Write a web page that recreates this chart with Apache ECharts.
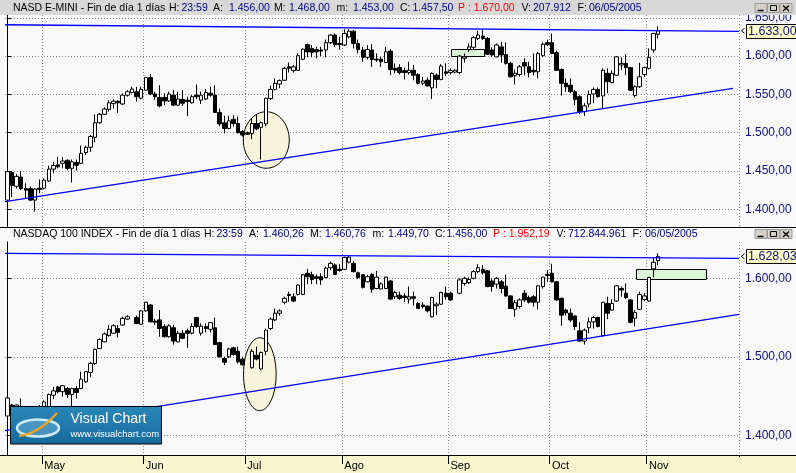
<!DOCTYPE html>
<html><head><meta charset="utf-8">
<script src="https://cdn.jsdelivr.net/npm/echarts@6/dist/echarts.min.js"></script>
<style>html,body{margin:0;padding:0;background:#f8f8f8}#c{width:796px;height:473px}</style>
</head><body><div id="c"></div><script>
// ---------- data ----------
const monthLabels = ['May','Jun','Jul','Ago','Sep','Oct','Nov'];
const monthStarts = [8,30,52,73,96,118,139];
const categoryCount = 159;
const yTicksTop = [1400,1450,1500,1550,1600,1650];
const yTicksBottom = [1400,1500,1600];
// [open, close, low, high]
const emini = [
[1412,1449,1409,1456],[1448,1431,1416,1450],[1430,1443,1427,1446],[1442,1427,1425,1450],[1427,1425,1414,1434],
[1427,1412,1411,1430],[1412,1426.5,1397,1427.5],[1427.5,1426,1421,1439],[1427.5,1438,1426,1440.5],[1437,1452.5,1436,1457],
[1452.5,1457,1447,1462],[1458,1455.5,1453.5,1468.5],[1460,1463,1453.5,1468],[1464,1453.5,1451,1465],[1453.5,1462,1435,1465],
[1461,1457.5,1450.5,1465],[1460,1473,1459,1483],[1474,1481,1471,1483],[1481,1495,1475,1497],[1494,1513,1487.5,1524],
[1513,1524,1512,1526],[1524,1531,1523,1533],[1530.5,1539,1527.5,1542.5],[1538,1541,1531.5,1543.5],[1541,1539,1526,1542.5],
[1537.5,1549,1536,1551.5],[1549,1553.5,1547,1555.5],[1552.5,1557,1551.5,1560],[1553.5,1547,1540.5,1560],[1545,1556.5,1543.5,1560],
[1555.5,1572,1555,1573],[1572,1550.5,1549,1576.5],[1550.5,1547,1542.5,1553.5],[1546,1535,1533,1562],[1546,1541.5,1536,1551.5],
[1541.5,1550.5,1540,1553.5],[1549,1536,1535,1555.5],[1536,1544,1535,1553.5],[1543.5,1538.5,1535,1555.5],[1542.5,1540.5,1521.5,1547],
[1539,1547,1538,1549],[1549,1547,1544,1563],[1542.5,1549,1537.5,1553.5],[1544,1552.5,1542.5,1557],[1551.5,1549,1547,1560],
[1549,1526.5,1526,1562],[1526.5,1511.5,1508.5,1531.5],[1513,1505.5,1499,1522],[1505.5,1515.5,1504.5,1522],[1517.5,1512,1508,1523],
[1512,1500,1499,1521],[1501.5,1497,1495,1503.5],[1500,1498,1497,1501.5],[1499,1512,1491.5,1518.5],[1512,1505,1503.5,1523],
[1507,1513,1465,1514.5],[1511.5,1545,1508.5,1545],[1544.5,1556.5,1542.5,1561.5],[1556.5,1564.5,1555,1571],[1563.5,1568,1558,1569.5],
[1568.5,1584,1567.5,1586],[1586,1584,1578.5,1591.5],[1581,1586,1578.5,1588.5],[1581.5,1600.5,1581,1603.5],[1596,1609,1595,1610],
[1615,1605.5,1598.5,1616.5],[1610,1605,1598.5,1614.5],[1608.5,1605.5,1597,1612],[1608,1606.5,1600,1612],[1608,1617.5,1598.5,1621.5],
[1617.5,1627.5,1615.5,1628.5],[1627.5,1615,1612,1629.5],[1616.5,1615,1608.5,1625],[1614.5,1629.5,1613,1635],[1625,1632.5,1623,1635],
[1632.5,1616.5,1610,1634],[1616.5,1608.5,1603.5,1621.5],[1608,1598.5,1592.5,1612],[1598.5,1608.5,1595.5,1614.5],[1608,1595.5,1586,1615.5],
[1596,1595,1592.5,1603.5],[1596,1592.5,1586,1599],[1591.5,1605.5,1591,1612],[1606.5,1582.5,1575,1609],[1584,1581.5,1577.5,1590.5],
[1585,1578.5,1576,1589.5],[1581,1578.5,1569.5,1585],[1578.5,1581.5,1576,1592.5],[1581.5,1575,1568.5,1588.5],[1576,1564.5,1563,1577.5],
[1564.5,1567.5,1562,1573],[1568.5,1561,1560,1572],[1558.5,1577.5,1544,1578.5],[1575,1569.5,1558,1577.5],[1569.5,1587,1568.5,1589.5],
[1579.5,1577.5,1574,1590.5],[1578.5,1581,1576,1584],[1579,1581.5,1577.5,1582.5],[1578.5,1600,1576.5,1601.5],[1597,1599,1591.5,1603.5],
[1608.5,1612,1605.5,1616.5],[1611.5,1624,1608,1626],[1623,1627.5,1621,1633],[1626,1623,1621,1635],[1623,1602.5,1601.5,1625],
[1608,1601.5,1599,1611.5],[1599,1614.5,1598.5,1616.5],[1612,1601.5,1591.5,1618.5],[1602,1590.5,1589,1618],[1590.5,1573,1572,1592.5],
[1574.5,1577.5,1563,1582.5],[1576,1586,1573,1588.5],[1591.5,1587,1575,1597],[1586,1578.5,1572,1592.5],[1581.5,1579.5,1575,1603.5],
[1579.5,1603.5,1571,1605.5],[1600.5,1615.5,1599,1617.5],[1617.5,1615,1613,1621.5],[1617.5,1603.5,1602.5,1629.5],[1604.5,1581.5,1581,1607],
[1582.5,1564.5,1548.5,1584],[1564.5,1560,1553.5,1571],[1562,1553.5,1551.5,1571],[1553.5,1543.5,1536,1555.5],[1547,1527.5,1524.5,1549],
[1527.5,1535,1522,1538.5],[1537.5,1550,1533,1555],[1550.5,1556.5,1538.5,1559],[1556.5,1547,1546,1559],[1548,1581.5,1531.5,1584],
[1577.5,1566.5,1551.5,1584],[1565.5,1577.5,1564.5,1581.5],[1575,1599,1574.5,1600],[1588.5,1590.5,1581.5,1598.5],[1590.5,1585,1575,1602.5],
[1585,1555.5,1554.5,1586],[1548.5,1560,1546,1562],[1560,1573,1558.5,1591.5],[1576,1585,1573,1586],[1584,1598,1582.5,1610],
[1608,1629.5,1604.5,1630.5],[1628.5,1633,1623,1639]
];
const ndx = [
[1424.5,1447.5,1419,1449],[1438.5,1434,1430,1439.5],[1432,1438.5,1430,1439],[1436,1425.5,1421,1447],[1434,1425.5,1423.5,1436],
[1432,1419,1418,1433],[1421.5,1434,1410.5,1436],[1434,1432,1427.5,1438.5],[1430,1442.5,1427.5,1444.5],[1435.5,1452,1434,1453],
[1451,1456.5,1446,1461.5],[1461.5,1455.5,1453,1463],[1455.5,1463,1449,1464],[1459.5,1452,1447.5,1461.5],[1452,1459.5,1436,1460.5],
[1459.5,1454.5,1447,1463],[1459.5,1471.5,1458.5,1481],[1468,1481,1467,1481.5],[1480,1491.5,1474.5,1493.5],[1491.5,1509.5,1489.5,1510.5],
[1510.5,1522,1510,1523.5],[1519,1529,1518.5,1531],[1527,1535,1525.5,1540.5],[1530,1539.5,1529.5,1541.5],[1536,1531,1524.5,1540.5],
[1540.5,1549,1539.5,1551],[1548,1551,1547,1553],['-','-','-','-'],[1550,1542.5,1541.5,1552.5],[1541.5,1558.5,1541,1559.5],
[1558.5,1569.5,1557.5,1570],[1566,1544.5,1544,1567],[1545.5,1544,1540.5,1548],[1547,1536,1525.5,1559.5],[1538.5,1525.5,1524.5,1541.5],
[1525.5,1539.5,1524.5,1541.5],[1537,1520,1515.5,1540.5],[1519,1530,1518.5,1533],[1530,1523.5,1522.5,1534],[1533,1530,1511.5,1536],
[1530,1538.5,1528.5,1542.5],[1550,1538.5,1537,1551],[1530,1539,1527,1542.5],[1538.5,1536,1531,1542.5],[1535,1543.5,1531,1544.5],
[1537,1515.5,1515,1550],[1518,1500,1499,1519],[1498,1493,1489.5,1500],[1500,1510,1498.5,1511.5],[1511.5,1503,1501.5,1513],
[1507,1493.5,1491.5,1513],[1497,1490,1488.5,1500],['-','-','-','-'],[1486,1507,1485,1510],[1502,1497,1495.5,1513],
[1484.5,1505.5,1483,1506.5],[1507,1534,1502,1536],[1536,1548,1534,1550],[1547,1555.5,1545.5,1561.5],[1555.5,1558.5,1552.5,1560.5],
[1569.5,1574.5,1567,1576.5],[1579.5,1578,1570,1583],[1576.5,1571,1569.5,1581],[1579.5,1591.5,1578,1592.5],[1579.5,1604.5,1578.5,1605.5],
[1606.5,1602,1592.5,1612],[1604.5,1598.5,1592.5,1608.5],[1602,1600,1592.5,1605],[1602,1598,1591.5,1606.5],[1601,1613,1600,1615],
[1613.5,1619,1610.5,1621.5],[1617,1605,1604.5,1619],[1611.5,1610,1608.5,1618],[1611.5,1626.5,1610.5,1627.5],[1620.5,1627,1619,1628.5],
[1619,1608.5,1607.5,1621.5],[1607,1601,1599,1608.5],[1604.5,1588.5,1587,1605],[1595.5,1602,1595,1604.5],[1605,1586,1581.5,1606.5],
[1587,1601.5,1586,1609.5],[1586.5,1593,1586,1595],[1587,1601.5,1586,1602],[1596.5,1573.5,1572.5,1598],[1576.5,1582,1573.5,1584],
[1578.5,1574.5,1572.5,1583],[1577.5,1575.5,1570,1581],[1573.5,1576.5,1568,1589.5],[1576.5,1574.5,1565,1583],[1568,1561.5,1561,1570],
[1566,1564,1561.5,1569.5],[1564.5,1558.5,1556.5,1566],[1551,1575.5,1550,1576.5],[1565,1567,1553,1569.5],[1567,1582,1566,1583],
[1581,1576.5,1572.5,1589.5],[1581,1572.5,1571,1583],['-','-','-','-'],[1581,1598,1579.5,1600],[1593.5,1600,1590.5,1602],
[1594.5,1598.5,1592.5,1601],[1600,1608.5,1598.5,1610.5],[1608.5,1613.5,1606.5,1618],[1611.5,1607,1605,1617],[1609.5,1589.5,1588.5,1610.5],
[1596.5,1589.5,1583,1600],[1592.5,1600,1587,1601.5],[1595.5,1587,1581,1598],[1590,1577.5,1576.5,1604.5],[1577.5,1561.5,1561,1578.5],
[1560.5,1569,1551,1572.5],[1564,1572.5,1561.5,1574.5],[1581,1572.5,1570,1585],[1575.5,1569.5,1568,1578],[1576.5,1569.5,1564,1578.5],
[1569.5,1590.5,1560.5,1591.5],[1589.5,1601.5,1587,1602],[1605,1603.5,1595.5,1610.5],[1606.5,1595.5,1595,1618.5],[1595.5,1572.5,1571.5,1596.5],
[1574.5,1553,1539.5,1575.5],[1559.5,1556,1552.5,1561.5],[1555.5,1547,1544.5,1561.5],[1552,1538.5,1534,1553],[1533,1520,1519,1544],
[1520,1534,1515.5,1536],[1537,1544.5,1530,1550],[1544.5,1550,1536,1552],[1550,1538.5,1537.5,1551],[1527,1569.5,1525.5,1570],
[1568,1555.5,1548,1576.5],[1559.5,1568,1558.5,1573.5],[1571,1590.5,1570,1591.5],[1587,1585,1576.5,1589.5],[1581,1575.5,1573.5,1593.5],
[1572.5,1544,1542.5,1573],[1549,1556.5,1538.5,1559.5],[1560.5,1579.5,1559.5,1583],[1573,1577.5,1571,1581],[1571,1601,1570,1602],
[1612,1620.5,1601,1626.5],[1622.5,1628.03,1617,1632]
];
// trend lines: [barIndex, price]
const resistTop = [[-0.5,1640.9],[158.5,1632.4]];
const supportTop = [[-0.5,1409.9],[157.2,1558]];
const resistBottom = [[-0.5,1631.9],[158.5,1625.5]];
const supportBottom = [[-0.5,1405.7],[158.5,1554.1]];
// annotations: ellipse [cIndex, cPrice, rIndex, rPrice]; box [i0, p0, i1, p1]
const ellipseTop = [[56.1,1490.5,4.98,36.9]];
const ellipseBottom = [[54.7,1477.8,3.53,46.5]];
const boxTop = [[96.1,1599.2,103.3,1608.9]];
const boxBottom = [[136.2,1598.7,151.3,1611.9]];

// ---------- chart ----------
const chart = echarts.init(document.getElementById('c'), null, {renderer:'canvas', width:796, height:473});
const fmtNum = v => { const p = Number(v).toFixed(2).split('.'); return p[0].replace(/\B(?=(\d{3})+(?!\d))/g,'.') + ',' + p[1]; };
const categories = Array.from({length: categoryCount}, (_, i) => String(i));
const isMonth = i => monthStarts.indexOf(i) >= 0;
const FONT = 'Arial, "Liberation Sans", sans-serif';
const dotted = {show:true, interval:(i)=>isMonth(i), lineStyle:{color:'#8a8a8a', type:[1,2], width:1}};

function ellipseItem(params, api){
  const c = api.coord([api.value(0), api.value(1)]);
  const s = api.size([api.value(2), api.value(3)]);
  return {type:'ellipse', shape:{cx:c[0], cy:c[1], rx:s[0], ry:s[1]}, style:{fill:'#f6f4da', stroke:'#000', lineWidth:1}};
}
function boxItem(params, api){
  const p0 = api.coord([api.value(0), api.value(3)]);
  const p1 = api.coord([api.value(2), api.value(1)]);
  return {type:'rect', shape:{x:Math.round(p0[0])+0.5, y:Math.round(p0[1])+0.5, width:Math.round(p1[0]-p0[0]), height:Math.round(p1[1]-p0[1])}, style:{fill:'#dcf4d8', stroke:'#000', lineWidth:1}};
}
const candleStyle = {color:'#ffffff', color0:'#000000', borderColor:'#000', borderColor0:'#000', borderColorDoji:'#000', borderWidth:1};
const lineS = (xi, yi, data) => ({type:'line', xAxisIndex:xi, yAxisIndex:yi, data, symbol:'none', silent:true, z:6, lineStyle:{color:'#0000ff', width:1.3}});

const yAxisBase = (gi, min, max, ticks) => ({
  type:'value', gridIndex:gi, position:'right', min, max,
  axisLine:{show:true, lineStyle:{color:'#000', width:1}},
  axisTick:{show:true, length:4, customValues:ticks, lineStyle:{color:'#000'}},
  axisLabel:{show:true, customValues:ticks, formatter:fmtNum, color:'#101080', fontSize:12, margin:6, fontFamily:FONT},
  splitLine:{show:true, lineStyle:{color:'#8a8a8a', type:[1,2], width:1}}
});

const option = {
  animation:false,
  backgroundColor:'#f8f8f8',
  grid:[
    {left:5, right:57, top:15, height:212, outerBoundsMode:'none', containLabel:false},
    {left:5, right:57, top:242, height:213, outerBoundsMode:'none', containLabel:false}
  ],
  xAxis:[
    {type:'category', gridIndex:0, data:categories, boundaryGap:true, axisLine:{show:false}, axisTick:{show:false}, axisLabel:{show:false}, splitLine:dotted},
    {type:'category', gridIndex:1, data:categories, boundaryGap:true,
     axisLine:{show:true, lineStyle:{color:'#000', width:1}},
     axisTick:{show:true, interval:(i)=>isMonth(i), length:9, lineStyle:{color:'#000'}},
     axisLabel:{show:true, interval:(i)=>isMonth(i), formatter:(v)=>{const k=monthStarts.indexOf(+v); return k>=0?monthLabels[k]:'';}, align:'left', margin:5, color:'#000', fontSize:11, fontFamily:FONT},
     splitLine:dotted},
    {type:'value', gridIndex:0, min:-0.5, max:categoryCount-0.5, show:false},
    {type:'value', gridIndex:1, min:-0.5, max:categoryCount-0.5, show:false}
  ],
  yAxis:[
    yAxisBase(0, 1376.9, 1653.65, yTicksTop),
    yAxisBase(1, 1374.76, 1646.3, yTicksBottom)
  ],
  series:[
    {type:'custom', xAxisIndex:2, yAxisIndex:0, data:ellipseTop, renderItem:ellipseItem, z:1, silent:true, encode:{x:0, y:1}},
    {type:'custom', xAxisIndex:3, yAxisIndex:1, data:ellipseBottom, renderItem:ellipseItem, z:1, silent:true, encode:{x:0, y:1}},
    {type:'custom', xAxisIndex:2, yAxisIndex:0, data:boxTop, renderItem:boxItem, z:1, silent:true, encode:{x:0, y:1}},
    {type:'custom', xAxisIndex:3, yAxisIndex:1, data:boxBottom, renderItem:boxItem, z:1, silent:true, encode:{x:0, y:1}},
    {type:'candlestick', xAxisIndex:0, yAxisIndex:0, data:emini, barWidth:4, itemStyle:candleStyle, z:5},
    {type:'candlestick', xAxisIndex:1, yAxisIndex:1, data:ndx, barWidth:4, itemStyle:candleStyle, z:5},
    lineS(2,0,resistTop), lineS(2,0,supportTop), lineS(3,1,resistBottom), lineS(3,1,supportBottom)
  ]
};
chart.setOption(option);

// ---------- decorations ----------
const txt = (x, y, text, fill, size, extra) => Object.assign({type:'text', x, y, z:101, silent:true, style:{text, fill, font:size+'px '+FONT, verticalAlign:'middle', align:'left'}}, extra||{});
const KEY='#000000', VAL='#000080', RED='#ff0000';
function header(y, parts){
  return parts.map(p => txt(p[1], y, p[0], p[2], 10.5));
}
const headerTop = header(7.8, [
  ['NASD E-MINI - Fin de día 1 días',13,KEY],['H:',169,KEY],['23:59',181.5,VAL],['A:',213,KEY],['1.456,00',229,VAL],
  ['M:',274,KEY],['1.468,00',289,VAL],['m:',336.5,KEY],['1.453,00',353,VAL],['C:',400,KEY],['1.457,50',412.5,VAL],
  ['P : 1.670,00',458,RED],['V:',521.5,KEY],['207.912',533,VAL],['F:',577.5,KEY],['06/05/2005',589,VAL]
]);
const headerBottom = header(234.3, [
  ['NASDAQ 100 INDEX - Fin de día 1 días',13,KEY],['H:',204,KEY],['23:59',216.5,VAL],['A:',249,KEY],['1.460,26',263,VAL],
  ['M:',310,KEY],['1.460,76',325,VAL],['m:',372.5,KEY],['1.449,70',388,VAL],['C:',435,KEY],['1.456,00',446.5,VAL],
  ['P : 1.952,19',493,RED],['V:',556.5,KEY],['712.844.961',568,VAL],['F:',632.5,KEY],['06/05/2005',645,VAL]
]);
function buttons(y){
  const out = [];
  [755, 767.5, 780].forEach((x, k) => {
    out.push({type:'rect', z:101, silent:true, shape:{x:x, y:y, width:12, height:9}, style:{fill:'#d4d0c8', stroke:'#9a9a9a', lineWidth:1}});
  });
  out.push({type:'line', z:102, silent:true, shape:{x1:757.5, y1:y+7, x2:763.5, y2:y+7}, style:{stroke:'#000', lineWidth:1.5}});
  out.push({type:'rect', z:102, silent:true, shape:{x:770.5, y:y+2, width:6, height:5}, style:{fill:'none', stroke:'#000', lineWidth:1}});
  out.push({type:'line', z:102, silent:true, shape:{x1:783, y1:y+2, x2:789, y2:y+7.5}, style:{stroke:'#000', lineWidth:1.3}});
  out.push({type:'line', z:102, silent:true, shape:{x1:789, y1:y+2, x2:783, y2:y+7.5}, style:{stroke:'#000', lineWidth:1.3}});
  return out;
}
function priceMarker(yAxisIndex, value){
  const y = chart.convertToPixel({yAxisIndex}, value);
  return [
    {type:'polyline', z:101, silent:true, shape:{points:[[744.5,y-2.5],[741.5,y],[744.5,y+2.5]]}, style:{stroke:'#000', fill:'none', lineWidth:1}},
    {type:'rect', z:101, silent:true, shape:{x:746.5, y:Math.round(y-7)+0.5, width:60, height:14}, style:{fill:'#ffffc8', stroke:'#000', lineWidth:1}},
    txt(748, y+0.5, fmtNum(value), '#101080', 12.5, {z:102})
  ];
}
const logo = [
  {type:'rect', z:100, silent:true, shape:{x:10.5, y:406.5, width:151, height:37.5},
   style:{fill:new echarts.graphic.LinearGradient(0,0,0,1,[{offset:0,color:'#2b88b8'},{offset:1,color:'#15699b'}]), stroke:'#000', lineWidth:1}},
  {type:'ellipse', z:101, silent:true, shape:{cx:38, cy:428, rx:21, ry:8.5}, style:{fill:'rgba(150,205,235,0.35)', stroke:'#cfeaf7', lineWidth:2.5}},
  {type:'bezierCurve', z:102, silent:true, shape:{x1:19, y1:436, cpx1:38, cpy1:434, x2:57, y2:413}, style:{stroke:'#f2a51c', lineWidth:2.2, fill:'none'}},
  txt(70.5, 419.5, 'Visual Chart', '#ffffff', 14, {z:102}),
  txt(70.5, 434.5, 'www.visualchart.com', '#ffffff', 9.5, {z:102})
];
const lastTop = emini[emini.length-1][1];
const lastBottom = ndx[ndx.length-1][1];
const graphics = [
  {type:'rect', z:-1, silent:true, shape:{x:0, y:455.5, width:796, height:18}, style:{fill:'#f8f5cf'}},
  {type:'rect', z:100, silent:true, shape:{x:736, y:457, width:8, height:10}, style:{fill:'#f8f5cf'}},
  {type:'rect', z:100, silent:true, shape:{x:0, y:0, width:796, height:15}, style:{fill:'#d8d8d8'}},
  {type:'line', z:100, silent:true, shape:{x1:0, y1:227.5, x2:796, y2:227.5}, style:{stroke:'#000', lineWidth:1}},
  {type:'line', z:100, silent:true, shape:{x1:0, y1:455.5, x2:796, y2:455.5}, style:{stroke:'#000', lineWidth:1}},
  ...headerTop, ...headerBottom, ...buttons(3.5), ...buttons(229.5),
  ...priceMarker(0, lastTop), ...priceMarker(1, lastBottom),
  ...logo
];
chart.setOption({graphic:{elements:graphics}});
</script></body></html>
